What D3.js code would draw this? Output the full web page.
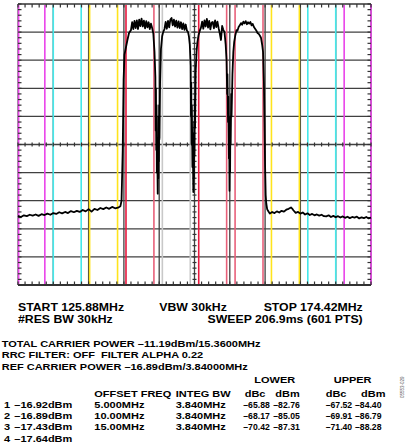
<!DOCTYPE html>
<html><head><meta charset="utf-8">
<script src="https://cdn.jsdelivr.net/npm/d3@7"></script>
<style>body{margin:0;background:#fff} svg{display:block}</style>
</head><body><svg id="c" width="409" height="448"></svg>
<script>
// ---- settings / data ----
const startMHz = 125.88, stopMHz = 174.42, sweepPts = 601;
const refLevel = -30, bottomLevel = -130;   // dBm, 10 dB/div
const divsX = 10, divsY = 10, minorPerDiv = 5;
const carrierCenters = [142.65, 147.65, 152.65, 157.65];
const carrierEdgeColors = [["#e8183e", "#e8607a"], ["#c8c8c8", "#c8c8c8"], ["#e8183e", "#e8607a"], ["#e8607a", "#e8607a"]];
const channelBW = 3.84;
const offsetFreqs = [5, 10, 15];
const offsetColors = ["#ffe41c", "#44e8ea", "#ea44ea"];

// trace: [sweep point index, amplitude dBm]
const trace = [
[0,-105.4],[5,-105.8],[10,-105.2],[15,-105.5],[20,-105.0],[25,-105.3],[30,-104.9],[35,-105.4],[40,-104.8],[45,-105.1],[50,-104.6],[55,-105.0],[60,-104.4],[65,-104.7],[70,-104.1],[75,-104.5],[80,-104.0],[85,-104.4],[90,-103.7],[95,-104.1],[100,-103.6],[105,-104.0],[110,-103.3],[115,-103.8],[120,-103.0],[125,-103.9],[130,-102.9],[135,-103.3],[140,-102.6],[145,-103.0],[150,-102.4],[155,-102.9],[160,-102.2],[165,-102.7],[170,-102.5],[174,-102.0],[176,-100],
[178,-82],[179.5,-57],[181,-48],[183.6,-45.3],[186,-42.8],[188.7,-40.3],
[192,-39.3],[194,-36.5],[196,-38.9],[198,-36.0],[200,-38.6],[202,-35.8],[204,-38.9],[206,-35.6],[208,-37.9],[210,-35.2],[212,-38.0],[214,-35.9],[216,-38.7],[218,-36.1],[220,-38.3],[222,-36.5],[224,-38.9],[226,-37.0],[228,-38.5],
[230,-40.5],[232,-47],[233.5,-56],[234,-75],[234.5,-60],[235,-82],[235.5,-66],[236,-90],[236.5,-78],[237.5,-97.5],[238,-82],[238.5,-92],[239,-70],[239.5,-86],[240,-66],[240.5,-78],[241.5,-58],[243,-46],[245,-41.5],[247,-39.8],
[249,-38.9],[251,-36.4],[253,-38.8],[255,-36.0],[257,-38.3],[259,-35.5],[261,-35.0],[263,-37.6],[265,-35.6],[267,-38.0],[269,-35.9],[271,-38.4],[273,-36.2],[275,-38.6],[277,-36.5],[279,-38.9],[281,-36.9],[283,-39.2],[285,-37.3],[287,-39.4],[289,-40.0],
[290.5,-41.5],[292,-44.5],[293.5,-52],[294,-70],[294.5,-58],[295,-80],[295.5,-66],[296.5,-88],[297,-76],[298,-96.9],[298.5,-80],[299,-92],[299.5,-72],[300,-84],[300.5,-64],[301,-74],[302,-54],[303.5,-47],[305,-43.5],[307,-41],[309,-39.5],
[311,-38.4],[313,-36.3],[315,-38.8],[317,-35.8],[319,-38.0],[321,-35.3],[323,-38.4],[325,-36.0],[327,-39.0],[329,-36.6],[331,-36.4],[333,-38.7],[335,-35.8],[337,-38.2],[339,-36.3],[341,-38.6],[343,-40.5],[345,-42.8],[347,-37.8],[349,-39.2],
[351,-40],[353,-44.5],[354.5,-50],[355.5,-62],[356,-55],[357,-72],[357.5,-63],[358.5,-85],[359,-76],[359.5,-96.5],[360,-82],[360.5,-90],[361,-70],[361.5,-80],[362.5,-62],[363,-70],[364.5,-55],[366,-47],[367.5,-43.5],[369.5,-41],[371.5,-39.3],
[373,-39.5],[375,-38.2],[377,-37.6],[379,-36.8],[381,-37.4],[383,-36.3],[385,-36.9],[387,-36.1],[389,-37.2],[391,-36.5],[393,-37.0],[395,-36.4],[397,-37.6],[399,-37.1],[401,-38.2],[403,-38.8],[405,-39.4],[407,-40.3],[409,-40.6],[411,-41.2],[413,-42],[415,-44.5],[416.5,-47],[418,-58],[419,-72],[420,-88],[421,-98],[422,-101],[423.5,-103],[425,-103.6],
[428,-104.6],[432,-104.0],[436,-104.4],[440,-103.8],[444,-104.2],[448,-103.6],[452,-103.9],[456,-103.2],[460,-102.9],[464,-102.4],[466,-102.8],[468,-103.4],[472,-104.3],[476,-104.0],[480,-104.6],[484,-104.2],[488,-104.9],[492,-104.5],[496,-105.1],[500,-104.7],[504,-105.2],[508,-104.9],[512,-105.3],[516,-105.0],[520,-105.5],[524,-105.6],[528,-105.2],[532,-105.8],[536,-105.4],[540,-105.9],[544,-105.5],[548,-106.0],[552,-105.6],[556,-106.1],[560,-105.7],[564,-106.2],[568,-105.8],[572,-106.0],[576,-105.7],[580,-106.3],[584,-105.9],[588,-106.2],[592,-105.8],[596,-106.3],[600,-106.0]];

// annotation values
const vbwKHz = 30, rbwKHz = 30, sweepMs = 206.9;
const totalCarrierPower = -11.19, totalBW = 15.36;
const filterAlpha = 0.22;
const refCarrierPower = -16.89, refBW = 3.84;
const carrierPowers = [-16.92, -16.89, -17.43, -17.64];
const integBW = [3.84, 3.84, 3.84];
const lowerDbc = [-65.88, -68.17, -70.42];
const lowerDbm = [-82.76, -85.05, -87.31];
const upperDbc = [-67.52, -69.91, -71.40];
const upperDbm = [-84.40, -86.79, -88.28];
const figureId = "05553-029";

// ---- layout ----
const L = 18, R = 371, T = 4, B = 285;
const svg = d3.select("#c");
const x = d3.scaleLinear().domain([startMHz, stopMHz]).range([L, R]);
const y = d3.scaleLinear().domain([bottomLevel, refLevel]).range([B, T]);
const idxToMHz = i => startMHz + i * (stopMHz - startMHz) / (sweepPts - 1);

const gridX = d3.range(divsX + 1).map(i => startMHz + i * (stopMHz - startMHz) / divsX);
const gridY = d3.range(divsY + 1).map(i => bottomLevel + i * (refLevel - bottomLevel) / divsY);
const minorX = d3.range(divsX * minorPerDiv + 1).map(i => startMHz + i * (stopMHz - startMHz) / (divsX * minorPerDiv));
const minorY = d3.range(divsY * minorPerDiv + 1).map(i => bottomLevel + i * (refLevel - bottomLevel) / (divsY * minorPerDiv));

const g = svg.append("g");
// grid
g.selectAll(".gx").data(gridX.slice(1, -1)).join("line")
  .attr("x1", d => x(d)).attr("x2", d => x(d)).attr("y1", T).attr("y2", B)
  .attr("stroke", "#404040").attr("stroke-width", 1.3);
g.selectAll(".gy").data(gridY.slice(1, -1)).join("line")
  .attr("x1", L).attr("x2", R).attr("y1", d => y(d)).attr("y2", d => y(d))
  .attr("stroke", "#404040").attr("stroke-width", 1.3);

// frame sides
g.append("line").attr("x1", R).attr("x2", R).attr("y1", T).attr("y2", B).attr("stroke", "#555").attr("stroke-width", 1.5);
g.append("line").attr("x1", L).attr("x2", L).attr("y1", T).attr("y2", B).attr("stroke", "#555").attr("stroke-width", 1.2);

// marker lines
const clampF = f => Math.max(startMHz, Math.min(stopMHz, f));
const markers = [];
carrierCenters.forEach((c, i) => {
  markers.push({f: c - channelBW / 2, col: carrierEdgeColors[i][0]});
  markers.push({f: c + channelBW / 2, col: carrierEdgeColors[i][1]});
});
offsetFreqs.forEach((o, i) => {
  const lo = carrierCenters[0] - o, hi = carrierCenters[carrierCenters.length - 1] + o;
  [lo - channelBW / 2, lo + channelBW / 2, hi - channelBW / 2, hi + channelBW / 2]
    .forEach(f => markers.push({f: clampF(f), col: offsetColors[i]}));
});
g.selectAll(".mk").data(markers).join("line")
  .attr("x1", d => x(d.f) + (d.f === startMHz ? 0.6 : 0)).attr("x2", d => x(d.f) + (d.f === startMHz ? 0.6 : 0))
  .attr("y1", T).attr("y2", B)
  .attr("stroke", d => d.col).attr("stroke-width", 1.6);

// frame top/bottom
g.append("line").attr("x1", L).attr("x2", R).attr("y1", T).attr("y2", T).attr("stroke", "#666").attr("stroke-width", 2);
g.append("line").attr("x1", L).attr("x2", R).attr("y1", B).attr("y2", B).attr("stroke", "#333").attr("stroke-width", 2);

// ticks
const midY = y((refLevel + bottomLevel) / 2), midX = x((startMHz + stopMHz) / 2);
const tk = "#333";
g.selectAll(".tt").data(minorX).join("line").attr("x1", d => x(d)).attr("x2", d => x(d)).attr("y1", T).attr("y2", T + 3.5).attr("stroke", tk).attr("stroke-width", 1.2);
g.selectAll(".tb").data(minorX).join("line").attr("x1", d => x(d)).attr("x2", d => x(d)).attr("y1", B - 3.5).attr("y2", B).attr("stroke", tk).attr("stroke-width", 1.2);
g.selectAll(".tm").data(minorX).join("line").attr("x1", d => x(d)).attr("x2", d => x(d)).attr("y1", midY - 2).attr("y2", midY + 2).attr("stroke", tk).attr("stroke-width", 1.2);
g.selectAll(".tl").data(minorY).join("line").attr("x1", L).attr("x2", L + 3.5).attr("y1", d => y(d)).attr("y2", d => y(d)).attr("stroke", tk).attr("stroke-width", 1.2);
g.selectAll(".tr").data(minorY).join("line").attr("x1", R - 3.5).attr("x2", R).attr("y1", d => y(d)).attr("y2", d => y(d)).attr("stroke", tk).attr("stroke-width", 1.2);
g.selectAll(".tc").data(minorY).join("line").attr("x1", midX - 2).attr("x2", midX + 2).attr("y1", d => y(d)).attr("y2", d => y(d)).attr("stroke", tk).attr("stroke-width", 1.2);

// trace
g.append("path").datum(trace)
  .attr("d", d3.line().x(d => x(idxToMHz(d[0]))).y(d => y(d[1])))
  .attr("fill", "none").attr("stroke", "#000").attr("stroke-width", 1.8).attr("stroke-linejoin", "round");

// ---- text ----
const MINUS = "\u2013";
const f2 = v => (v < 0 ? MINUS : "") + Math.abs(v).toFixed(2);
const FONT = "'Liberation Sans', Arial, Helvetica, sans-serif";
const txt = (s, tx, ty, size, sx, anchor) => svg.append("text")
  .attr("transform", `translate(${tx},${ty}) scale(${sx},1)`)
  .attr("text-anchor", anchor || "start")
  .attr("font-family", FONT)
  .attr("font-weight", "bold").attr("font-size", size).attr("fill", "#000")
  .style("white-space", "pre").text(s);
const num = (s, tx, ty, size, w) => svg.append("text")
  .attr("x", tx).attr("y", ty).attr("font-family", FONT)
  .attr("font-weight", "bold").attr("font-size", size).attr("fill", "#000")
  .attr("textLength", w).attr("lengthAdjust", "spacingAndGlyphs").text(s);

const s1 = 10.5, k1 = 1.17;
txt(`START ${startMHz.toFixed(2)}MHz`, 18, 310.7, s1, k1);
txt(`VBW ${vbwKHz}kHz`, 159.3, 310.7, s1, k1);
txt(`STOP ${stopMHz.toFixed(2)}MHz`, 362.7, 310.7, s1, k1, "end");
txt(`#RES BW ${rbwKHz}kHz`, 18, 322.5, s1, k1);
txt(`SWEEP ${sweepMs}ms (${sweepPts} PTS)`, 362.7, 322.5, s1, k1, "end");

const s2 = 9.4, k2 = 1.17;
txt(`TOTAL CARRIER POWER ${f2(totalCarrierPower)}dBm/${totalBW.toFixed(4)}MHz`, 1.7, 346.7, s2, k2);
txt(`RRC FILTER: OFF  FILTER ALPHA ${filterAlpha}`, 1.7, 358.3, s2, k2);
txt(`REF CARRIER POWER ${f2(refCarrierPower)}dBm/${refBW.toFixed(5)}MHz`, 1.7, 370, s2, k2);

txt("LOWER", 254.3, 383.3, s2, k2);
txt("UPPER", 333.7, 383.3, s2, k2);
txt("OFFSET FREQ", 94.3, 397.3, s2, k2);
txt("INTEG BW", 175.7, 397.3, s2, k2);
txt("dBc", 244.7, 397.3, s2, k2);
txt("dBm", 275.3, 397.3, s2, k2);
txt("dBc", 325.7, 397.3, s2, k2);
txt("dBm", 361, 397.3, s2, k2);

const rowY = [408.3, 419.3, 430.3, 441.7];
carrierPowers.forEach((p, i) => {
  txt(String(i + 1), 4, rowY[i], s2, k2);
  txt(`${f2(p)}dBm`, 14.3, rowY[i], s2, k2);
});
offsetFreqs.forEach((o, i) => {
  txt(`${o.toPrecision(4)}MHz`, 94.3, rowY[i], s2, k2);
  txt(`${integBW[i].toFixed(3)}MHz`, 175.7, rowY[i], s2, k2);
  num(f2(lowerDbc[i]), 243.3, rowY[i], s2, 26.5);
  num(f2(lowerDbm[i]), 273.3, rowY[i], s2, 26.5);
  num(f2(upperDbc[i]), 325.7, rowY[i], s2, 26.5);
  num(f2(upperDbm[i]), 355, rowY[i], s2, 26.5);
});

svg.append("text").attr("transform", "translate(404,398) rotate(-90)")
  .attr("font-family", FONT).attr("font-size", 4.5)
  .attr("fill", "#555").text(figureId);
</script></body></html>
